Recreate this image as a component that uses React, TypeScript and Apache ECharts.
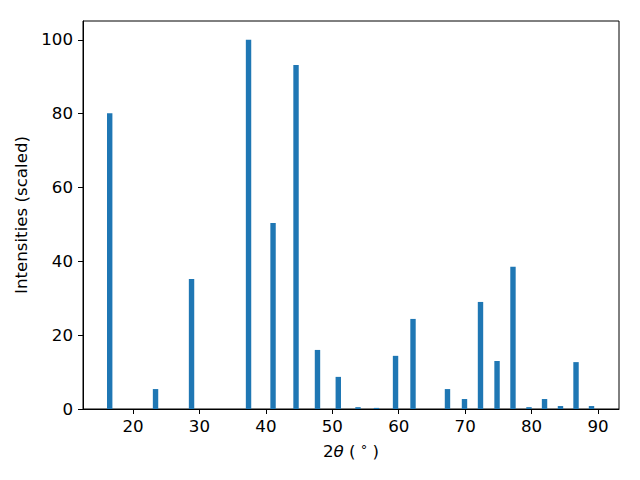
import React, { useEffect, useRef } from "react";
import * as echarts from "echarts";

const twoTheta = [16.49, 23.39, 28.81, 37.39, 41.08, 44.54, 47.77, 50.9, 53.87, 56.65, 59.52, 62.15, 67.34, 69.9, 72.31, 74.8, 77.2, 79.61, 81.95, 84.35, 86.69, 89.02];
const intensities = [80.1, 5.4, 35.2, 100, 50.4, 93.2, 16.0, 8.7, 0.5, 0.3, 14.4, 24.4, 5.4, 2.7, 29.0, 13.0, 38.5, 0.5, 2.7, 0.8, 12.7, 0.8];
const xTicks = [20, 30, 40, 50, 60, 70, 80, 90];
const yTicks = [0, 20, 40, 60, 80, 100];

export default function App() {
  const ref = useRef<HTMLDivElement>(null);
  useEffect(() => {
    if (!ref.current) return;
    const chart = echarts.init(ref.current, null, { renderer: "svg" });
    const font = "DejaVu Sans";
    const fs = 16.67;
    chart.setOption({
      animation: false,
      textStyle: { fontFamily: font },
      grid: {
        left: 83,
        right: 21,
        top: 21,
        bottom: 71,
        show: true,
        borderColor: "#000",
        borderWidth: 1,
        backgroundColor: "transparent",
      },
      xAxis: {
        type: "value",
        min: 12.47,
        max: 93.16,
        splitLine: { show: false },
        axisLine: { show: true, lineStyle: { color: "#000", width: 1 } },
        axisTick: { show: true, length: 5, customValues: xTicks, lineStyle: { color: "#000" } },
        axisLabel: { customValues: xTicks, fontSize: fs, color: "#000", margin: 9, fontFamily: font },
        name: "{a|2}{i|θ}{a| ( }{s|°}{a| )}",
        nameLocation: "middle",
        nameGap: 34,
        nameTextStyle: {
          rich: {
            a: { fontSize: fs, color: "#000", fontFamily: font },
            i: { fontSize: fs, color: "#000", fontFamily: font, fontStyle: "italic" },
            s: { fontSize: 13, color: "#000", fontFamily: font, verticalAlign: "top" },
          },
        },
      },
      yAxis: {
        type: "value",
        min: 0,
        max: 105.1,
        splitLine: { show: false },
        axisLine: { show: true, lineStyle: { color: "#000", width: 1 } },
        axisTick: { show: true, length: 5, customValues: yTicks, lineStyle: { color: "#000" } },
        axisLabel: { customValues: yTicks, fontSize: fs, color: "#000", margin: 10, fontFamily: font },
        name: "Intensities (scaled)",
        nameLocation: "middle",
        nameGap: 47,
        nameTextStyle: { fontSize: fs, color: "#000", fontFamily: font },
      },
      series: [
        {
          type: "bar",
          data: twoTheta.map((x, i) => [x, intensities[i]]),
          barWidth: 5.4,
          itemStyle: { color: "#1f77b4" },
        },
      ],
    });
    return () => chart.dispose();
  }, []);
  return <div ref={ref} style={{ width: 640, height: 480, position: "absolute", left: 0, top: 0 }} />;
}
